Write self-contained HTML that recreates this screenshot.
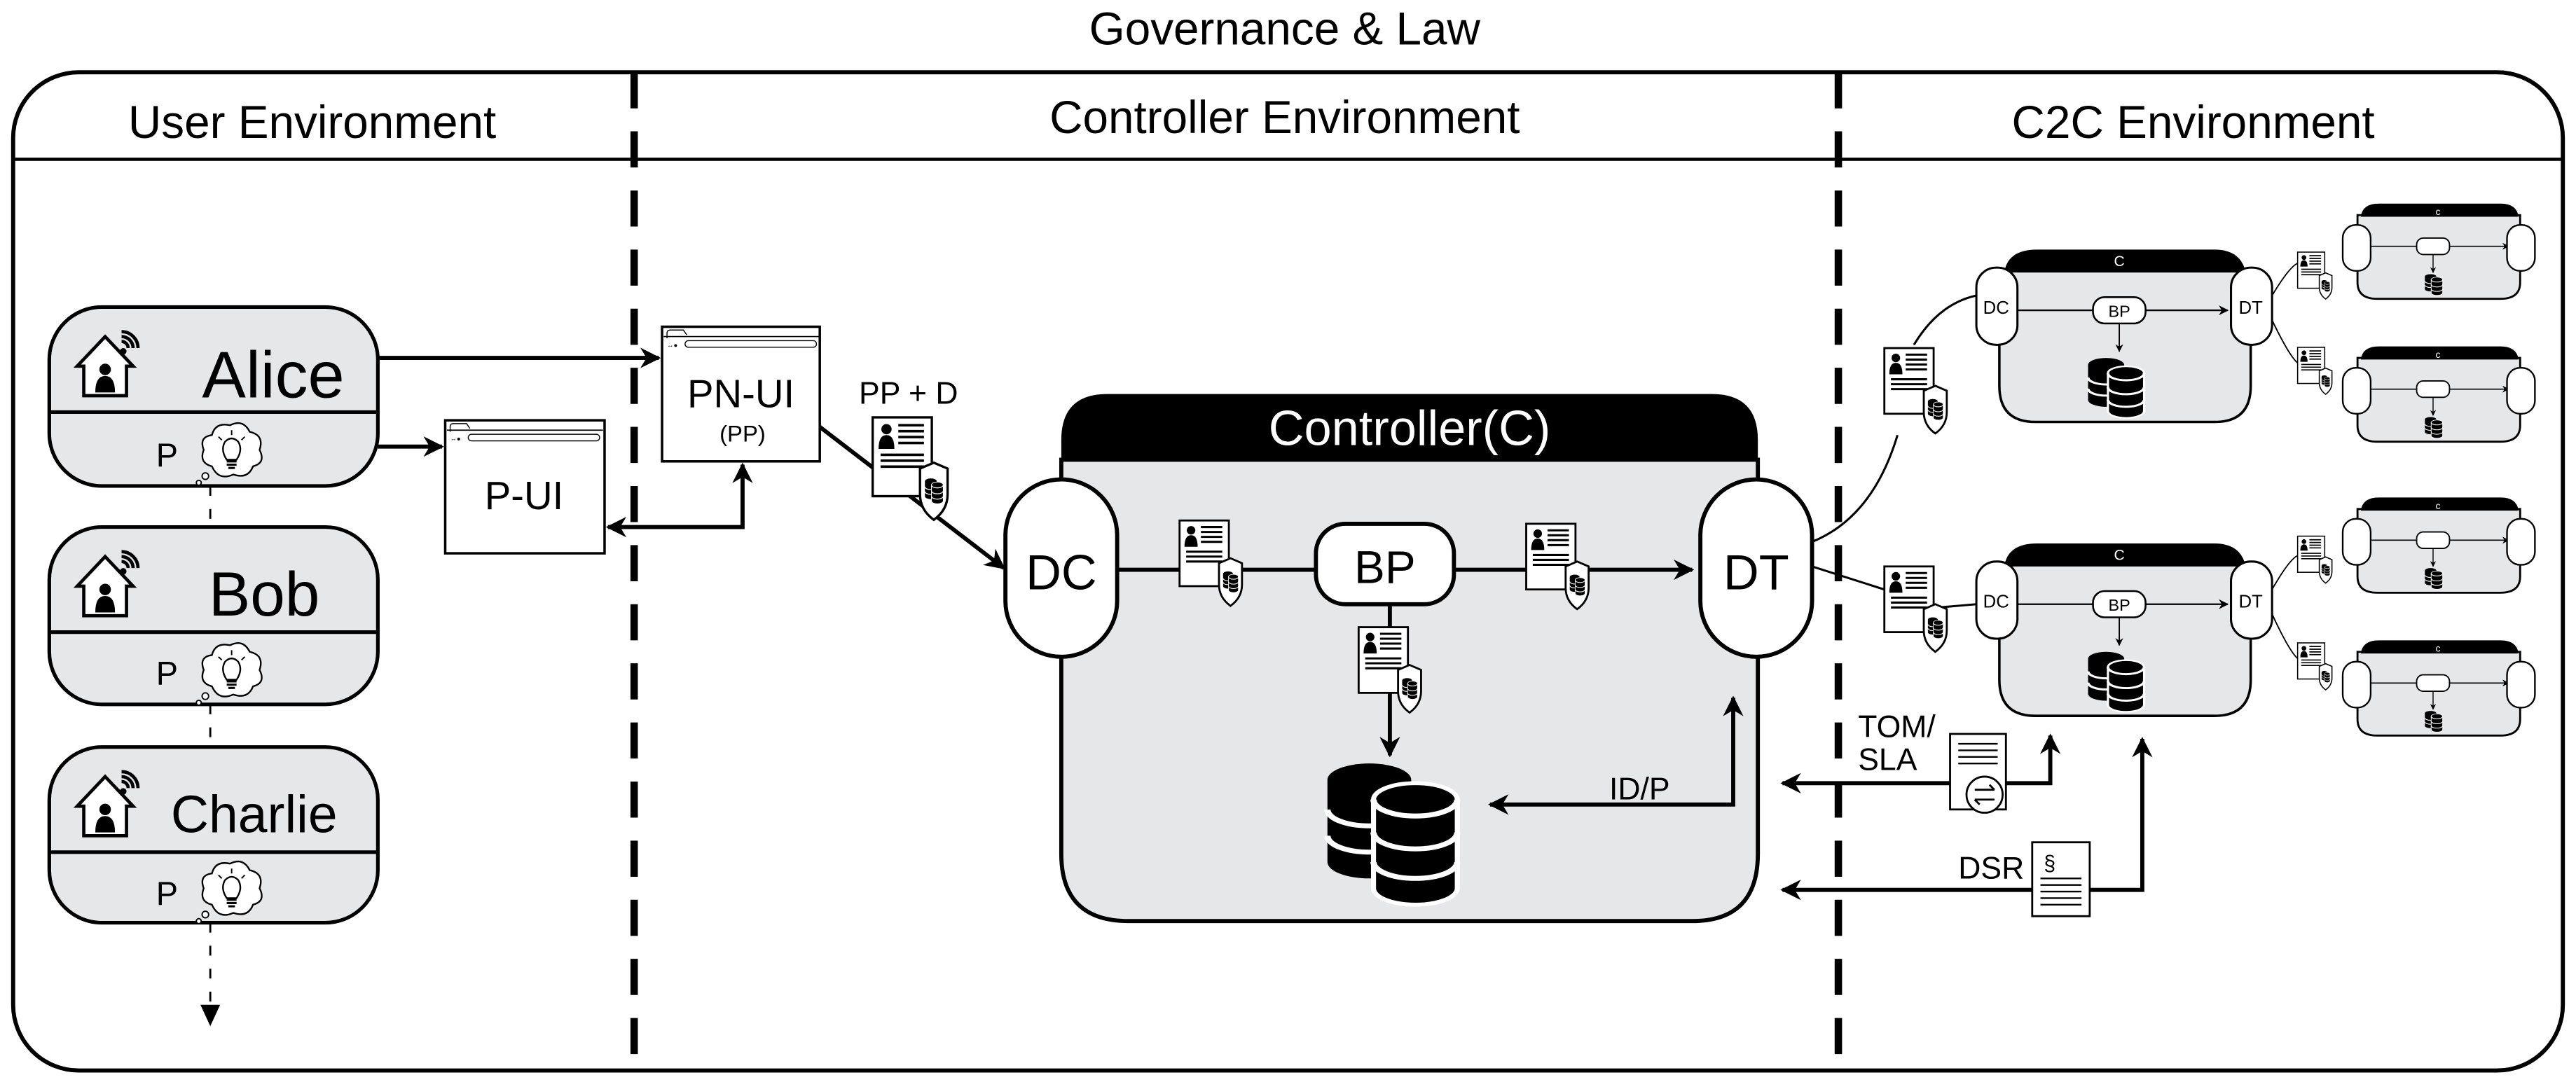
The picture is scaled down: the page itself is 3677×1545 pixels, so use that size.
<!DOCTYPE html>
<html><head><meta charset="utf-8"><style>
html,body{margin:0;padding:0;background:#fff}
svg{display:block}
text{font-family:"Liberation Sans",sans-serif;fill:#000}
</style></head><body>
<svg width="3677" height="1545" viewBox="0 0 1568 659" preserveAspectRatio="none" xmlns="http://www.w3.org/2000/svg">
<defs>
<marker id="ah" viewBox="0 0 10 10" refX="9" refY="5" markerWidth="5" markerHeight="5" orient="auto-start-reverse" markerUnits="strokeWidth"><path d="M0,0 L10,5 L0,10 L3,5 Z" fill="#000"/></marker>
<marker id="ahs" viewBox="0 0 10 10" refX="9" refY="5" markerWidth="6" markerHeight="6" orient="auto" markerUnits="strokeWidth"><path d="M0,0 L10,5 L0,10 L3,5 Z" fill="#000"/></marker>
<g id="db">
 <path d="M0,5 A10,5 0 0 1 20,5 L20,30 A10,5 0 0 1 0,30 Z" fill="#000"/>
 <path d="M0,14 A10,5 0 0 0 20,14 M0,22 A10,5 0 0 0 20,22" stroke="#fff" stroke-width="1.5" fill="none"/>
 <path d="M11,11 A10,5 0 0 1 31,11 L31,38 A10,5 0 0 1 11,38 Z" fill="#000" stroke="#fff" stroke-width="1.2"/>
 <path d="M11,11 A10,5 0 0 0 31,11 M11,21 A10,5 0 0 0 31,21 M11,30 A10,5 0 0 0 31,30" stroke="#fff" stroke-width="1.5" fill="none"/>
</g>
<g id="doc">
 <rect x="1" y="1" width="30" height="40" fill="#fff" stroke="#000" stroke-width="1.2"/>
 <circle cx="8" cy="7" r="2.6" fill="#000"/>
 <path d="M4,17 Q4,10 8,10 Q12,10 12,17 Z" fill="#000"/>
 <path d="M14,5H27M14,8H27M14,11H27M14,14H27M5,20H27M5,23H27M5,26H27" stroke="#000" stroke-width="1.3"/>
 <path d="M25,27 L32,24 L39,27 L39,40 Q39,48 32,53 Q25,48 25,40 Z" fill="#fff" stroke="#000" stroke-width="1.2"/>
 <use href="#db" transform="translate(27.5,32) scale(0.3)"/>
</g>
<g id="house">
 <path d="M4,22 L4,40 L30,40 L30,22 L34,22 L17,4 L0,22 Z" fill="#fff" stroke="#000" stroke-width="2" transform="translate(0,0)"/>
 <circle cx="17" cy="24" r="3.5" fill="#000"/>
 <path d="M11,38 Q11,28 17,28 Q23,28 23,38 Z" fill="#000"/>
 <circle cx="28" cy="13" r="2" fill="#000"/>
 <path d="M31,11 A4,4 0 0 0 27,7 M34,11 A7,7 0 0 0 27,4 M37,11 A10,10 0 0 0 27,1" stroke="#000" stroke-width="2" fill="none"/>
</g>
<g id="cloud">
 <path d="M8,28 Q0,26 3,18 Q0,10 8,9 Q10,1 19,3 Q27,-1 31,7 Q40,9 37,18 Q41,26 33,28 Q30,36 21,33 Q12,37 8,28 Z" fill="#fff" stroke="#000" stroke-width="1"/>
 <path d="M17,24 Q13,18 16,13 Q20,9 24,13 Q27,18 23,24 Z" fill="none" stroke="#000" stroke-width="1"/>
 <path d="M17,25H23M17,27H23M18,29H22" stroke="#000" stroke-width="1.3"/>
 <path d="M20,6V9M12,10L14,12M28,10L26,12" stroke="#000" stroke-width="0.8"/>
 <circle cx="4" cy="34" r="2" fill="#fff" stroke="#000" stroke-width="0.8"/>
 <circle cx="0" cy="38" r="1.5" fill="#fff" stroke="#000" stroke-width="0.8"/>
</g>
<g id="browser">
 <path d="M3,7 L3,4 Q3,2 5,2 L13,2 L15,5" fill="none" stroke="#000" stroke-width="0.6"/>
 <path d="M1,6 H96" stroke="#000" stroke-width="0.7"/>
 <rect x="14" y="8.5" width="80" height="4" rx="2" fill="#fff" stroke="#000" stroke-width="0.6"/>
 <text x="3" y="12.5" font-size="4">↔●</text>
</g>
<g id="small">
 <path d="M20,16 L20,4 Q30,-8 70,0 L130,0 Q150,-8 163,4 L163,16 Z" fill="#000"/>
</g>
</defs>

<!-- Title & frame -->
<text x="782" y="27" font-size="28" text-anchor="middle">Governance &amp; Law</text>
<rect x="8" y="44" width="1552" height="608" rx="40" fill="#fff" stroke="#000" stroke-width="2.5"/>
<line x1="8" y1="97" x2="1560" y2="97" stroke="#000" stroke-width="2"/>
<line x1="386" y1="44" x2="386" y2="645" stroke="#000" stroke-width="4.5" stroke-dasharray="22,14"/>
<line x1="1119" y1="44" x2="1119" y2="645" stroke="#000" stroke-width="4.5" stroke-dasharray="22,14"/>
<text x="190" y="84" font-size="28" text-anchor="middle">User Environment</text>
<text x="782" y="81" font-size="28" text-anchor="middle">Controller Environment</text>
<text x="1335" y="84" font-size="28" text-anchor="middle">C2C Environment</text>

<!-- Users -->
<g stroke="#000" stroke-width="2.2">
<rect x="30" y="187" width="200" height="109" rx="32" fill="#e6e7e9"/>
<line x1="30" y1="251" x2="230" y2="251"/>
<rect x="30" y="321" width="200" height="108" rx="32" fill="#e6e7e9"/>
<line x1="30" y1="385" x2="230" y2="385"/>
<rect x="30" y="455" width="200" height="107" rx="32" fill="#e6e7e9"/>
<line x1="30" y1="519" x2="230" y2="519"/>
</g>
<use href="#house" transform="translate(47,201)"/>
<use href="#house" transform="translate(47,335)"/>
<use href="#house" transform="translate(47,469)"/>
<text x="123" y="242" font-size="40">Alice</text>
<text x="127" y="375" font-size="38">Bob</text>
<text x="104" y="507" font-size="32">Charlie</text>
<text x="95" y="284" font-size="20">P</text>
<text x="95" y="417" font-size="20">P</text>
<text x="95" y="551" font-size="20">P</text>
<use href="#cloud" transform="translate(121,256)"/>
<use href="#cloud" transform="translate(121,390)"/>
<use href="#cloud" transform="translate(121,523)"/>
<g stroke="#000" stroke-width="1.2" stroke-dasharray="6,8">
<line x1="128" y1="296" x2="128" y2="321"/>
<line x1="128" y1="429" x2="128" y2="455"/>
<line x1="128" y1="562" x2="128" y2="612"/>
</g>
<path d="M122,612 L128,625 L134,612 Z" fill="#000"/>

<!-- UI windows -->
<rect x="271" y="256" width="97" height="81" fill="#fff" stroke="#000" stroke-width="1.5"/>
<use href="#browser" transform="translate(271,256)"/>
<text x="319" y="310" font-size="24" text-anchor="middle">P-UI</text>
<rect x="403" y="199" width="96" height="82" fill="#fff" stroke="#000" stroke-width="1.5"/>
<use href="#browser" transform="translate(403,199)"/>
<text x="451" y="248" font-size="24" text-anchor="middle">PN-UI</text>
<text x="452" y="269" font-size="14" text-anchor="middle">(PP)</text>

<g stroke="#000" stroke-width="2.5" fill="none">
<line x1="230" y1="218" x2="401" y2="218" marker-end="url(#ah)"/>
<line x1="230" y1="272" x2="269" y2="272" marker-end="url(#ah)"/>
<polyline points="370,321 452,321 452,283" marker-start="url(#ah)" marker-end="url(#ah)"/>
<line x1="499" y1="260" x2="611" y2="346" marker-end="url(#ah)"/>
</g>
<text x="553" y="246" font-size="19" text-anchor="middle">PP + D</text>
<use href="#doc" transform="translate(530,253) scale(1.2)"/>

<!-- Controller -->
<path d="M646,280 L646,520 Q646,561 687,561 L1030,561 Q1070,561 1070,520 L1070,280 Z" fill="#e6e7e9" stroke="#000" stroke-width="2.5"/>
<path d="M646,281 L646,268 Q646,240 674,240 L1042,240 Q1070,240 1070,268 L1070,281 Z" fill="#000"/>
<text x="858" y="271" font-size="30" fill="#fff" text-anchor="middle" style="fill:#fff">Controller(C)</text>
<g stroke="#000" stroke-width="2.5">
<line x1="680" y1="347" x2="801" y2="347"/>
<line x1="885" y1="347" x2="1030" y2="347" marker-end="url(#ah)"/>
<line x1="846" y1="368" x2="846" y2="460" marker-end="url(#ah)"/>
<polyline points="1055,425 1055,490 907,490" fill="none" marker-start="url(#ah)" marker-end="url(#ah)"/>
</g>
<rect x="612" y="292" width="68" height="108" rx="34" fill="#fff" stroke="#000" stroke-width="2.5"/>
<text x="646" y="359" font-size="30" text-anchor="middle">DC</text>
<rect x="1035" y="292" width="68" height="108" rx="34" fill="#fff" stroke="#000" stroke-width="2.5"/>
<text x="1069" y="359" font-size="30" text-anchor="middle">DT</text>
<rect x="801" y="319" width="84" height="49" rx="18" fill="#fff" stroke="#000" stroke-width="2.5"/>
<text x="843" y="355" font-size="28" text-anchor="middle">BP</text>
<use href="#doc" transform="translate(717,316)"/>
<use href="#doc" transform="translate(928,318)"/>
<use href="#doc" transform="translate(826,381)"/>
<use href="#db" transform="translate(808,465) scale(2.55,2.0)"/>
<text x="998" y="487" font-size="19" text-anchor="middle">ID/P</text>

<!-- TOM/SLA and DSR -->
<g stroke="#000" stroke-width="2.5" fill="none">
<polyline points="1248,448 1248,477 1085,477" marker-start="url(#ah)" marker-end="url(#ah)"/>
<polyline points="1304,450 1304,542 1085,542" marker-start="url(#ah)" marker-end="url(#ah)"/>
</g>
<text x="1131" y="449" font-size="19">TOM/</text>
<text x="1131" y="469" font-size="19">SLA</text>
<rect x="1187" y="447" width="34" height="46" fill="#fff" stroke="#000" stroke-width="1.2"/>
<path d="M1192,453H1216M1192,457H1216M1192,461H1216M1192,465H1216" stroke="#000" stroke-width="1"/>
<circle cx="1208" cy="484" r="11" fill="#fff" stroke="#000" stroke-width="1.2"/>
<path d="M1202,481H1214M1211,478L1214,481M1214,487H1202M1205,490L1202,487" stroke="#000" stroke-width="1.2" fill="none"/>
<text x="1192" y="535" font-size="19">DSR</text>
<rect x="1237" y="513" width="35" height="45" fill="#fff" stroke="#000" stroke-width="1.2"/>
<text x="1244" y="530" font-size="13">§</text>
<path d="M1242,535H1267M1242,539H1267M1242,543H1267M1242,547H1267M1242,551H1267" stroke="#000" stroke-width="1"/>

<!-- DT to C2C connectors -->
<path d="M1103,330 Q1140,315 1155,265 M1165,210 Q1180,185 1203,180" stroke="#000" stroke-width="1.3" fill="none"/>
<path d="M1103,345 L1150,360 M1180,370 L1203,368" stroke="#000" stroke-width="1.3" fill="none"/>
<use href="#doc" transform="translate(1146,211)"/>
<use href="#doc" transform="translate(1146,344)"/>

<!-- Mid C2C controllers -->
<g id="mid">
<path d="M1217,165 L1217,235 Q1217,257 1239,257 L1348,257 Q1370,257 1370,235 L1370,165 Z" fill="#e6e7e9" stroke="#000" stroke-width="1.5"/>
<path d="M1220,166 Q1222,152 1240,152 L1348,152 Q1364,152 1367,166 Z" fill="#000"/>
<line x1="1228" y1="189" x2="1356" y2="189" stroke="#000" stroke-width="1" marker-end="url(#ahs)"/>
<line x1="1290" y1="197" x2="1290" y2="214" stroke="#000" stroke-width="0.8" marker-end="url(#ahs)"/>
<rect x="1203" y="163" width="25" height="47" rx="12" fill="#fff" stroke="#000" stroke-width="1.3"/>
<rect x="1358" y="163" width="25" height="47" rx="12" fill="#fff" stroke="#000" stroke-width="1.3"/>
<rect x="1274" y="181" width="32" height="16" rx="7" fill="#fff" stroke="#000" stroke-width="1.1"/>
<use href="#db" transform="translate(1271,218) scale(1.1,0.85)"/>
</g>
<text x="1290" y="162" font-size="9" text-anchor="middle" style="fill:#fff">C</text>
<text x="1215" y="191" font-size="11" text-anchor="middle">DC</text>
<text x="1370" y="191" font-size="11" text-anchor="middle">DT</text>
<text x="1290" y="193" font-size="10" text-anchor="middle">BP</text>
<use href="#mid" transform="translate(0,179)"/>
<text x="1290" y="341" font-size="9" text-anchor="middle" style="fill:#fff">C</text>
<text x="1215" y="370" font-size="11" text-anchor="middle">DC</text>
<text x="1370" y="370" font-size="11" text-anchor="middle">DT</text>
<text x="1290" y="372" font-size="10" text-anchor="middle">BP</text>

<!-- Tiny controllers -->
<g id="tiny">
<path d="M1435,131 L1435,172 Q1435,182 1447,182 L1522,182 Q1534,182 1534,172 L1534,131 Z" fill="#e6e7e9" stroke="#000" stroke-width="1.2"/>
<path d="M1437,132 Q1438,124 1448,124 L1522,124 Q1532,124 1533,132 Z" fill="#000"/>
<line x1="1443" y1="150" x2="1527" y2="150" stroke="#000" stroke-width="0.7" marker-end="url(#ahs)"/>
<line x1="1481" y1="155" x2="1481" y2="166" stroke="#000" stroke-width="0.6" marker-end="url(#ahs)"/>
<rect x="1426" y="137" width="17" height="28" rx="8" fill="#fff" stroke="#000" stroke-width="1"/>
<rect x="1526" y="137" width="17" height="28" rx="8" fill="#fff" stroke="#000" stroke-width="1"/>
<rect x="1471" y="145" width="20" height="10" rx="4" fill="#fff" stroke="#000" stroke-width="0.8"/>
<use href="#db" transform="translate(1476,167) scale(0.35,0.3)"/>
<text x="1484" y="131" font-size="6" text-anchor="middle" style="fill:#fff">c</text>
</g>
<use href="#tiny" transform="translate(0,87)"/>
<use href="#tiny" transform="translate(0,179)"/>
<use href="#tiny" transform="translate(0,266)"/>
<path d="M1383,180 Q1395,160 1400,160 M1383,195 Q1395,220 1400,222 M1383,359 Q1395,338 1400,338 M1383,374 Q1395,400 1400,402" stroke="#000" stroke-width="0.8" fill="none"/>
<use href="#doc" transform="translate(1398,153) scale(0.55)"/>
<use href="#doc" transform="translate(1398,211) scale(0.55)"/>
<use href="#doc" transform="translate(1398,326) scale(0.55)"/>
<use href="#doc" transform="translate(1398,391) scale(0.55)"/>
</svg>
</body></html>
